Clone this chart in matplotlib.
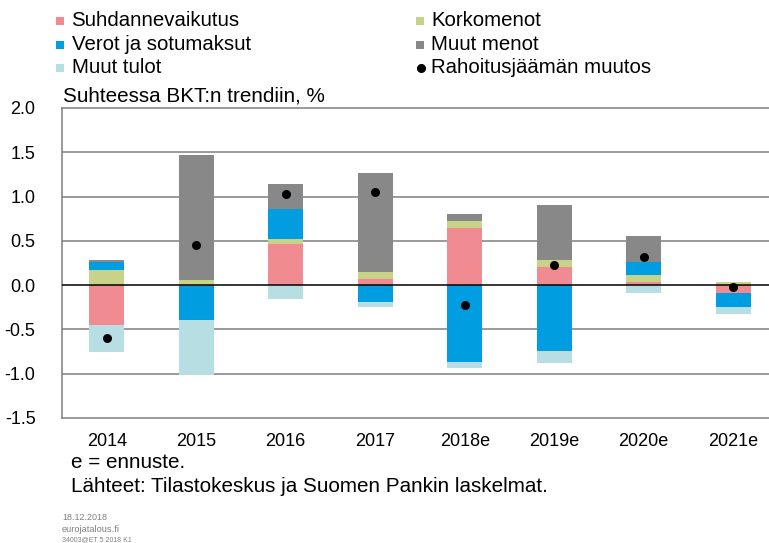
import numpy as np
import matplotlib.pyplot as plt
from matplotlib.patches import Rectangle
from matplotlib.lines import Line2D

plt.rcParams['font.family'] = ['Liberation Sans', 'DejaVu Sans']

# data
years = ['2014', '2015', '2016', '2017', '2018e', '2019e', '2020e', '2021e']
suhdanne = [-0.45, -0.01, 0.46, 0.07, 0.65, 0.21, 0.03, -0.09]
korko = [0.17, 0.06, 0.06, 0.075, 0.075, 0.07, 0.08, 0.03]
verot = [0.09, -0.38, 0.34, -0.19, -0.87, -0.745, 0.15, -0.155]
muut_menot = [0.02, 1.415, 0.28, 1.12, 0.075, 0.63, 0.29, 0.0]
muut_tulot = [-0.30, -0.63, -0.16, -0.055, -0.07, -0.13, -0.09, -0.08]
muutos = [-0.60, 0.45, 1.03, 1.05, -0.22, 0.23, 0.32, -0.02]

series = [
    ('Suhdannevaikutus', suhdanne, '#F08B91'),
    ('Korkomenot', korko, '#C8D38A'),
    ('Verot ja sotumaksut', verot, '#009EE0'),
    ('Muut menot', muut_menot, '#888888'),
    ('Muut tulot', muut_tulot, '#B7DEE3'),
]

W, H = 769, 543
fig = plt.figure(figsize=(W / 100, H / 100), dpi=100)
ax = fig.add_axes([62 / W, (H - 418) / H, 716 / W, 310 / H])

x = np.arange(len(years))
pos = np.zeros(len(years))
neg = np.zeros(len(years))
for name, vals, col in series:
    v = np.array(vals)
    bottom = np.where(v >= 0, pos, neg)
    ax.bar(x, v, 0.39, bottom=bottom, color=col, linewidth=0, zorder=3)
    pos = pos + np.clip(v, 0, None)
    neg = neg + np.clip(v, None, 0)

ax.scatter(x, muutos, s=42, color='black', zorder=5, linewidths=0)

ax.set_xlim(-0.5, len(years) - 0.5)
ax.set_ylim(-1.5, 2.0)
ax.set_yticks(np.arange(-1.5, 2.01, 0.5))
ax.set_yticklabels(['%.1f' % t for t in np.arange(-1.5, 2.01, 0.5)])
ax.set_xticks(x)
ax.set_xticklabels(years)
ax.tick_params(length=0, labelsize=13)
ax.tick_params(axis='y', pad=19)
ax.tick_params(axis='x', pad=11)

for t in [-1.0, -0.5, 0.5, 1.0, 1.5]:
    ax.axhline(t, color='#7f7f7f', lw=1.1, zorder=1)
ax.axhline(0, color='black', lw=1.1, zorder=4)
for s in ax.spines.values():
    s.set_color('#7f7f7f')
    s.set_linewidth(1.1)

ax.text(0.001, 1.008, 'Suhteessa BKT:n trendiin, %', transform=ax.transAxes,
        fontsize=14.9, va='bottom', ha='left')

# legend drawn by hand in two columns
leg = [
    (56, 21, 'Suhdannevaikutus', '#F08B91', 'sq'),
    (56, 44.5, 'Verot ja sotumaksut', '#009EE0', 'sq'),
    (56, 67.5, 'Muut tulot', '#B7DEE3', 'sq'),
    (416, 21, 'Korkomenot', '#C8D38A', 'sq'),
    (416, 44.5, 'Muut menot', '#888888', 'sq'),
    (416, 67.5, 'Rahoitusjäämän muutos', 'black', 'dot'),
]
for px, py, lab, col, kind in leg:
    if kind == 'sq':
        fig.add_artist(Rectangle((px / W, (H - py - 4) / H), 8 / W, 8 / H,
                                 transform=fig.transFigure, color=col, lw=0))
    else:
        fig.add_artist(Line2D([(px + 5) / W], [(H - py) / H], marker='o',
                              markersize=5.5, color='black', ls='none',
                              transform=fig.transFigure))
    fig.text((px + 15.5) / W, (H - py) / H, lab, fontsize=14.7, va='center')

fig.text(71 / W, (H - 462) / H, 'e = ennuste.', fontsize=14.9, va='center')
fig.text(71 / W, (H - 487) / H, 'Lähteet: Tilastokeskus ja Suomen Pankin laskelmat.',
         fontsize=14.9, va='center')
fig.text(62 / W, (H - 517) / H, '18.12.2018', fontsize=6.5, color='#808080', va='center')
fig.text(62 / W, (H - 529) / H, 'eurojatalous.fi', fontsize=6.7, color='#808080', va='center')
fig.text(62 / W, (H - 540) / H, '34003@ET 5 2018 K1', fontsize=5, color='#808080', va='center')

fig.savefig('out.png', dpi=100)
